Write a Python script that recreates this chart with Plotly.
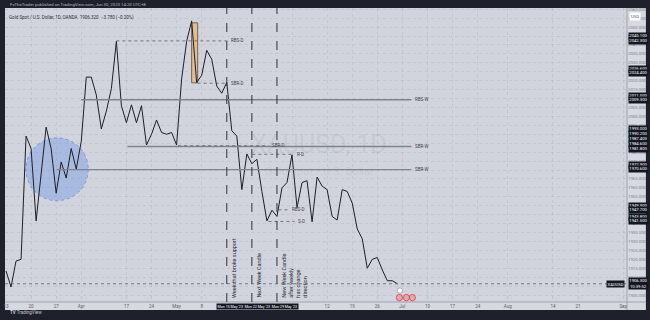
import plotly.graph_objects as go
import pandas as pd

# ---------------- data ----------------
closes = [
    1913.5, 1904.5, 1919.0, 1920.0, 1989.0,           # Mar 13-17
    1982.0, 1941.5, 1968.0, 1994.0, 1982.0,           # Mar 20-24
    1957.0, 1974.5, 1965.5, 1982.0, 1970.5,           # Mar 27-31
    1986.0, 2022.0, 2022.0, 2012.0,                   # Apr 3-6
    1993.0, 2003.0, 2015.5, 2042.0, 2006.0,           # Apr 10-14
    1996.5, 2006.5, 1996.5, 2006.0, 1984.0,           # Apr 17-21
    1990.0, 1998.0, 1991.0, 1990.0, 1991.0,           # Apr 24-28
    1984.0, 2021.0, 2042.0, 2053.5, 2019.0,           # May 1-5
    2023.0, 2037.0, 2032.0, 2017.0, 2013.0,           # May 8-12
    2019.0, 1992.0, 1989.0, 1959.0, 1979.0,           # May 15-19
    1973.5, 1976.0, 1958.0, 1941.5, 1947.5,           # May 22-26
    1944.0, 1960.0, 1963.0, 1978.5, 1949.0,           # May 29 - Jun 2
    1963.0, 1964.0, 1941.0, 1966.0, 1961.0,           # Jun 5-9
    1959.0, 1944.0, 1942.0, 1959.0, 1958.0,           # Jun 12-16
    1951.5, 1937.0, 1931.5, 1915.0, 1920.0,           # Jun 19-23
    1921.0, 1914.0, 1908.0, 1908.0, 1906.3,           # Jun 26-30
]
holidays = ["2023-04-07"]
trading_days = pd.bdate_range("2023-03-10", "2023-09-15")
trading_days = trading_days[~trading_days.isin(pd.to_datetime(holidays))]
start_idx = list(trading_days).index(pd.Timestamp("2023-03-13"))
days = trading_days[start_idx:]
dates = days[:len(closes)]

x_tick_dates = ["2023-03-13", "2023-03-20", "2023-03-27", "2023-04-03", "2023-04-17",
                "2023-04-24", "2023-05-01", "2023-05-08", "2023-06-01", "2023-06-12",
                "2023-06-19", "2023-06-26", "2023-07-03", "2023-07-10", "2023-07-17",
                "2023-07-24", "2023-08-01", "2023-08-14", "2023-08-21", "2023-09-01"]
x_tick_text = ["13", "20", "27", "Apr", "17", "24", "May", "8", "Jun", "12",
               "19", "26", "Jul", "10", "17", "24", "Aug", "14", "21", "Sep"]

# horizontal levels: (label, price, start bar, end bar, style)
levels = [
    ("RBS-D", 2042.3, 22.0, 44.2, "dot"),
    ("SBR-D", 2018.6, 38.2, 44.2, "dot"),
    ("RBS-W", 2009.3, 15.0, 80.8, "solid"),
    ("SBR-W", 1983.2, 24.2, 80.8, "solid"),
    ("SBR-D", 1983.6, 34.3, 52.3, "dot"),
    ("SBR-W", 1970.2, 10.1, 80.8, "solid"),
    ("R-D", 1978.8, 49.1, 57.2, "dot"),
    ("RBS-D", 1947.7, 54.3, 56.3, "dot"),
    ("S-D", 1941.2, 52.3, 57.5, "dot"),
]
week_lines = ["2023-05-15", "2023-05-22", "2023-05-29"]
week_notes = ["Week that broke support", "Next Week Candle",
              "New Week Candle<br>after weekly<br>has change<br>direction"]
axis_marks = [2045.1, 2042.3, 2026.6, 2024.4, 2011.5, 2009.3, 1993.0, 1990.2,
              1987.4, 1984.6, 1981.8, 1972.9, 1970.6, 1949.9, 1947.7, 1943.8, 1941.5]

# ---------------- helpers ----------------
def bx(i):
    """fractional bar index -> date string on the weekday axis"""
    k = int(i // 1)
    frac = i - k
    t = days[k] + pd.Timedelta(hours=24 * frac)
    return t.strftime("%Y-%m-%d %H:%M:%S")

BG = "#d1d4dc"
DARK = "#1e212b"
FONT = "Roboto"

fig = go.Figure()
fig.add_trace(go.Scatter(x=dates, y=closes, mode="lines",
                         line=dict(color="#1c1f26", width=1.0),
                         hoverinfo="skip", showlegend=False))

shapes = []
ann = []

# frame strips
shapes += [
    dict(type="rect", xref="paper", yref="paper", x0=-0.05, x1=1.1, y0=1.0, y1=1.1,
         fillcolor=DARK, line_width=0, layer="below"),
    dict(type="rect", xref="paper", yref="paper", x0=-0.05, x1=1.1, y0=-0.2, y1=-0.0275,
         fillcolor=DARK, line_width=0, layer="below"),
    dict(type="rect", xref="paper", yref="paper", x0=-0.05, x1=0.0, y0=-0.2, y1=1.1,
         fillcolor=DARK, line_width=0, layer="below"),
    dict(type="rect", xref="paper", yref="paper", x0=1.0304, x1=1.1, y0=-0.2, y1=1.1,
         fillcolor=DARK, line_width=0, layer="below"),
    dict(type="line", xref="paper", yref="paper", x0=1.0, x1=1.0, y0=-0.0275, y1=1.0,
         line=dict(color="#9598a1", width=0.8)),
    dict(type="line", xref="paper", yref="paper", x0=0.0, x1=1.0304, y0=0.0, y1=0.0,
         line=dict(color="#9598a1", width=0.8)),
]

# blue circle & orange box
shapes.append(dict(type="circle", xref="x", yref="y", x0=bx(3.96), x1=bx(16.4),
                   y0=1952.8, y1=1988.0, fillcolor="rgba(100,140,235,0.36)",
                   line=dict(color="rgba(80,125,230,0.8)", width=0.8, dash="dot"),
                   layer="between"))
shapes.append(dict(type="rect", xref="x", yref="y", x0=bx(37.0), x1=bx(38.2),
                   y0=2018.8, y1=2052.4, fillcolor="#e5bb90",
                   line=dict(color="#6f655c", width=1), layer="between"))

# horizontal levels
for name, price, a, b, style in levels:
    if style == "solid":
        ln = dict(color="#80848f", width=1.4)
    else:
        ln = dict(color="#5a5e69", width=0.8, dash="dot")
    shapes.append(dict(type="line", xref="x", yref="y", x0=bx(a), x1=bx(b),
                       y0=price, y1=price, line=ln))
    ann.append(dict(x=bx(b + 0.3), y=price, xref="x", yref="y", text=name,
                    showarrow=False, xanchor="left", yanchor="middle",
                    font=dict(size=4.5, color="#3d414c", family=FONT)))

# vertical week lines + notes
for d in week_lines:
    shapes.append(dict(type="line", xref="x", yref="paper", x0=d, x1=d, y0=0, y1=1,
                       line=dict(color="#30333c", width=1, dash="dash")))
for d, note in zip(week_lines, week_notes):
    i = list(days).index(pd.Timestamp(d))
    ann.append(dict(x=bx(i + 0.45), y=0.007, xref="x", yref="paper", text=note,
                    showarrow=False, textangle=-90, xanchor="left", yanchor="bottom",
                    align="left", font=dict(size=5.5, color="#2a2d35", family=FONT)))

# last price dotted line
last = closes[-1]
shapes.append(dict(type="line", xref="paper", yref="y", x0=0, x1=1, y0=last, y1=last,
                   line=dict(color="#5d606b", width=0.8, dash="dot")))

# event markers near bottom
for i in [78.4, 79.8, 81.0]:
    shapes.append(dict(type="circle", xref="x", yref="paper", x0=bx(i - 0.6), x1=bx(i + 0.6),
                       y0=0.004, y1=0.026, fillcolor="rgba(242,54,69,0.25)",
                       line=dict(color="#f23645", width=0.8)))
shapes.append(dict(type="circle", xref="x", yref="paper", x0=bx(78.0), x1=bx(79.0),
                   y0=0.030, y1=0.048, fillcolor="white",
                   line=dict(color="#888", width=0.6)))

# watermark
ann.append(dict(x=0.505, y=0.535, xref="paper", yref="paper", text="XAUUSD, 1D",
                showarrow=False, font=dict(size=25, color="rgba(120,124,138,0.13)", family=FONT)))
ann.append(dict(x=0.505, y=0.445, xref="paper", yref="paper", text="Gold Spot / U.S. Dollar",
                showarrow=False, font=dict(size=11, color="rgba(120,124,138,0.13)", family=FONT)))

# header texts
ann.append(dict(x=0.005, y=1.0136, xref="paper", yref="paper",
                text="FxTheTrader published on TradingView.com, Jun 30, 2023 14:20 UTC+8",
                showarrow=False, xanchor="left", yanchor="middle",
                font=dict(size=4.3, color="#b2b5be", family=FONT)))
ann.append(dict(x=0.004, y=0.985, xref="paper", yref="paper",
                text="Gold Spot / U.S. Dollar, 1D, OANDA  1906.320  \u22123.780 (\u22120.20%)",
                showarrow=False, xanchor="left", yanchor="top",
                font=dict(size=4.5, color="#2a2e39", family=FONT)))
ann.append(dict(x=0.005, y=-0.0374, xref="paper", yref="paper", text="<b>TV</b> TradingView",
                showarrow=False, xanchor="left", yanchor="middle",
                font=dict(size=4.5, color="#c9cbd1", family=FONT)))

# axis badges
ann.append(dict(x=1.004, y=0.987, xref="paper", yref="paper", text="USD",
                showarrow=False, xanchor="left", yanchor="top", bgcolor="white",
                borderpad=1, font=dict(size=4.3, color="#555", family=FONT)))
for p in axis_marks:
    ann.append(dict(x=1.002, y=p, xref="paper", yref="y", text=f"{p:.3f}",
                    showarrow=False, xanchor="left", yanchor="middle", bgcolor="#131722",
                    borderpad=0.3, font=dict(size=4.2, color="white", family=FONT)))
ann.append(dict(x=1.002, y=last, xref="paper", yref="y", text=f"{last:.3f}<br>10:39:52",
                showarrow=False, xanchor="left", yanchor="middle", bgcolor="#131722",
                borderpad=0.3, font=dict(size=4.2, color="white", family=FONT)))
ann.append(dict(x=0.997, y=last, xref="paper", yref="y", text="XAUUSD",
                showarrow=False, xanchor="right", yanchor="middle", bgcolor="#131722",
                borderpad=0.5, font=dict(size=4.2, color="white", family=FONT)))
ann.append(dict(x=bx(41.8), y=-0.004, xref="x", yref="paper",
                text="Mon 15 May '23  Mon 22 May '23  Mon 29 May '23",
                showarrow=False, xanchor="left", yanchor="top", bgcolor="#131722",
                borderpad=0.6, font=dict(size=3.6, color="white", family=FONT)))

fig.update_layout(
    width=650, height=320,
    margin=dict(l=3, r=21, t=8, b=18),
    paper_bgcolor="#d6d9e0", plot_bgcolor=BG,
    shapes=shapes, annotations=ann, showlegend=False,
    xaxis=dict(type="date", range=["2023-03-10 19:15", "2023-09-01 18:15"],
               rangebreaks=[dict(bounds=["sat", "mon"]), dict(values=holidays)],
               tickvals=x_tick_dates, ticktext=x_tick_text, ticks="",
               tickfont=dict(size=4.5, color="#5d606b", family=FONT),
               showgrid=True, gridcolor="rgba(150,155,170,0.25)", griddash="dot",
               gridwidth=0.6, zeroline=False, showline=False, fixedrange=True),
    yaxis=dict(side="right", range=[1896.1, 2060.7], dtick=5, tick0=1900,
               tickformat=".3f", ticks="",
               tickfont=dict(size=4.3, color="#7c808c", family=FONT),
               showgrid=True, gridcolor="rgba(150,155,170,0.25)", griddash="dot",
               gridwidth=0.6, zeroline=False, showline=False, fixedrange=True),
)

fig.write_html("out.html", config={"displayModeBar": False})
